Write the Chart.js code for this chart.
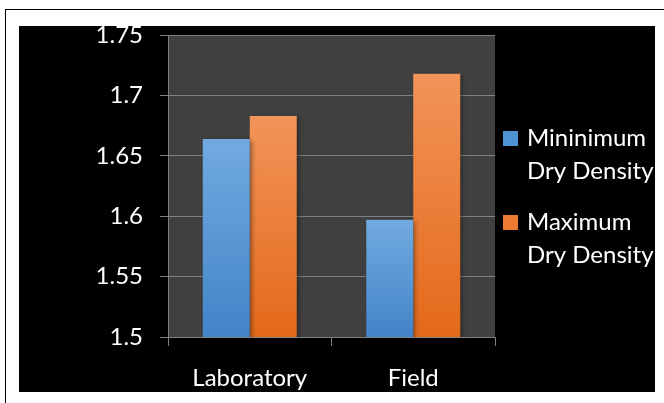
<!DOCTYPE html>
<html>
<head>
<meta charset="utf-8">
<script src="https://cdn.jsdelivr.net/npm/chart.js@4/dist/chart.umd.min.js"></script>
<style>
  html, body { margin: 0; padding: 0; background: #fff; }
  body { width: 664px; height: 403px; position: relative; overflow: hidden; }
  #frame { position: absolute; left: 5px; top: 9px; width: 670px; height: 400px;
           border-top: 1px solid #000; border-left: 1px solid #000; }
  #wrap { position: absolute; left: 19px; top: 26px; width: 636px; height: 366px; background: #000; overflow: hidden; }
</style>
</head>
<body>
<div id="frame"></div>
<div id="wrap"><canvas id="c"></canvas></div>
<script>
// Dry density by test setting
const categories = ['Laboratory', 'Field'];
const minDryDensity = [1.664, 1.597];
const maxDryDensity = [1.683, 1.718];
const seriesNames = [['Mininimum', 'Dry Density'], ['Maximum', 'Dry Density']];
const yMin = 1.5, yMax = 1.75, yStep = 0.05;

const FONT = 'Lato, "Open Sans", sans-serif';
const FONT_SIZE = 24;
const palette = [
  { top: '#72aae0', bottom: '#4284c8', swatch: '#4f93d6' },
  { top: '#f29459', bottom: '#e4691a', swatch: '#ec7c33' }
];

// vertical gradient per bar, lighter at the top
function barFill(i) {
  return (ctx) => {
    const chart = ctx.chart;
    const y = chart.scales && chart.scales.y;
    if (!chart.chartArea || !y || ctx.raw == null) return palette[i].swatch;
    const top = y.getPixelForValue(ctx.raw);
    const g = chart.ctx.createLinearGradient(0, top, 0, y.bottom);
    g.addColorStop(0, palette[i].top);
    g.addColorStop(1, palette[i].bottom);
    return g;
  };
}

const plotBackground = {
  id: 'plotBackground',
  beforeDraw(chart) {
    const { ctx, chartArea: a } = chart;
    ctx.save();
    ctx.fillStyle = '#404040';
    ctx.fillRect(a.left, a.top, a.right - a.left, a.bottom - a.top);
    ctx.restore();
  }
};

const barShadow = {
  id: 'barShadow',
  beforeDatasetsDraw(chart) {
    const ctx = chart.ctx;
    ctx.save();
    ctx.shadowColor = 'rgba(0,0,0,0.45)';
    ctx.shadowBlur = 5;
    ctx.shadowOffsetX = 2;
    ctx.shadowOffsetY = 1;
  },
  afterDatasetsDraw(chart) { chart.ctx.restore(); }
};

// two-line legend on the right
const sideLegend = {
  id: 'sideLegend',
  afterDraw(chart) {
    const ctx = chart.ctx;
    const x0 = chart.chartArea.right + 8;
    const firstBaseline = 120;
    const itemGap = 84;
    const lineGap = 33;
    ctx.save();
    ctx.font = FONT_SIZE + 'px ' + FONT;
    ctx.textBaseline = 'alphabetic';
    chart.data.datasets.forEach((ds, i) => {
      const base = firstBaseline + i * itemGap;
      ctx.fillStyle = palette[i].swatch;
      ctx.fillRect(x0, base - 15, 15, 15);
      ctx.fillStyle = '#ffffff';
      seriesNames[i].forEach((line, k) => {
        ctx.fillText(line, x0 + 24, base + k * lineGap);
      });
    });
    ctx.restore();
  }
};

new Chart(document.getElementById('c'), {
  type: 'bar',
  data: {
    labels: categories,
    datasets: [
      { label: seriesNames[0].join(' '), data: minDryDensity, backgroundColor: barFill(0) },
      { label: seriesNames[1].join(' '), data: maxDryDensity, backgroundColor: barFill(1) }
    ]
  },
  options: {
    responsive: true,
    maintainAspectRatio: false,
    animation: false,
    layout: { padding: { top: 9, right: 160, left: 0, bottom: 0 } },
    datasets: { bar: { categoryPercentage: 0.575, barPercentage: 1.0 } },
    plugins: { legend: { display: false }, tooltip: { enabled: false } },
    scales: {
      x: {
        grid: { drawOnChartArea: false, drawTicks: true, tickLength: 9, color: '#808080' },
        border: { color: '#808080', width: 1 },
        ticks: { color: '#ffffff', font: { family: FONT, size: FONT_SIZE }, padding: 18, maxRotation: 0 },
        afterFit(s) { s.height = 55; s.paddingLeft = 0; s.paddingRight = 0; }
      },
      y: {
        min: yMin, max: yMax,
        grid: { color: '#808080', tickLength: 8, lineWidth: 1 },
        border: { color: '#808080', width: 1 },
        ticks: {
          stepSize: yStep, color: '#ffffff', padding: 17,
          font: { family: FONT, size: FONT_SIZE },
          callback: (v) => String(+v.toFixed(2))
        },
        afterFit(s) { s.width = 149; s.paddingTop = 0; s.paddingBottom = 0; }
      }
    }
  },
  plugins: [plotBackground, barShadow, sideLegend]
});
</script>
</body>
</html>
